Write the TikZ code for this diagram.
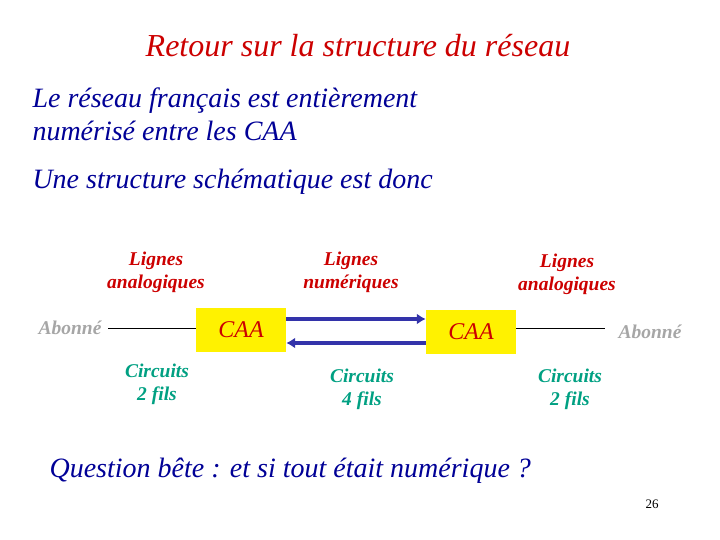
\documentclass[tikz,border=0pt]{standalone}
\usepackage{fontspec}
\setmainfont{Liberation Serif}
\begin{document}
\begin{tikzpicture}[x=1pt,y=-1pt,
  red1/.style={font=\itshape\bfseries\fontsize{19.5}{23}\selectfont, text=myred, align=center},
  grn/.style={font=\itshape\bfseries\fontsize{19.5}{23}\selectfont, text=mygreen, align=center},
  ab/.style={font=\itshape\bfseries\fontsize{19.5}{22}\selectfont, text=gray!70},
  caa/.style={fill=yellow, text=myred, font=\itshape\fontsize{24}{26}\selectfont, minimum width=90pt, minimum height=44pt, inner sep=0pt},
  arr/.style={draw=myblue, line width=3.5pt, -{Latex[length=9pt,width=11pt]}},
  body/.style={font=\itshape\fontsize{28}{33}\selectfont, text=navy, anchor=west, align=left}]
\usetikzlibrary{arrows.meta}
\definecolor{myred}{RGB}{204,0,0}
\definecolor{mygreen}{RGB}{0,160,130}
\definecolor{myblue}{RGB}{51,51,170}
\definecolor{navy}{RGB}{0,0,150}
\useasboundingbox (0,0) rectangle (720,540);
\node[font=\itshape\fontsize{32}{36}\selectfont, text=myred] (t) at (358,46) {Retour sur la structure du réseau};
\node[body] (b1) at (29,114) {Le réseau français est entièrement\\numérisé entre les CAA};
\node[body] (b2) at (29,182) {Une structure schématique est donc};
\node[red1] (l1) at (156,272) {Lignes\\analogiques};
\node[red1] (l2) at (351,272) {Lignes\\numériques};
\node[red1] (l3) at (567,274) {Lignes\\analogiques};
\node[caa] (c1) at (241,330) {CAA};
\node[caa] (c2) at (471,332) {CAA};
\node[ab] (a1) at (70,328) {Abonné};
\node[ab] (a2) at (650,332) {Abonné};
\coordinate (p1) at (108,328);
\coordinate (p2) at (605,328);
\draw (p1) -- (c1.west |- p1);
\draw (c2.east |- p2) -- (p2);
\draw[arr] (c1.east |- 0,319) -- (c2.west |- 0,319);
\draw[arr] (c2.west |- 0,343) -- (c1.east |- 0,343);
\node[grn] (g1) at (157,384) {Circuits\\2 fils};
\node[grn] (g2) at (362,389) {Circuits\\4 fils};
\node[grn] (g3) at (570,389) {Circuits\\2 fils};
\node[font=\itshape\fontsize{28}{32}\selectfont, text=navy, anchor=west] (q) at (46,471) {Question bête : et si tout était numérique ?};
\node[font=\fontsize{13}{15}\selectfont] (n) at (652,504) {26};
\end{tikzpicture}
\end{document}
